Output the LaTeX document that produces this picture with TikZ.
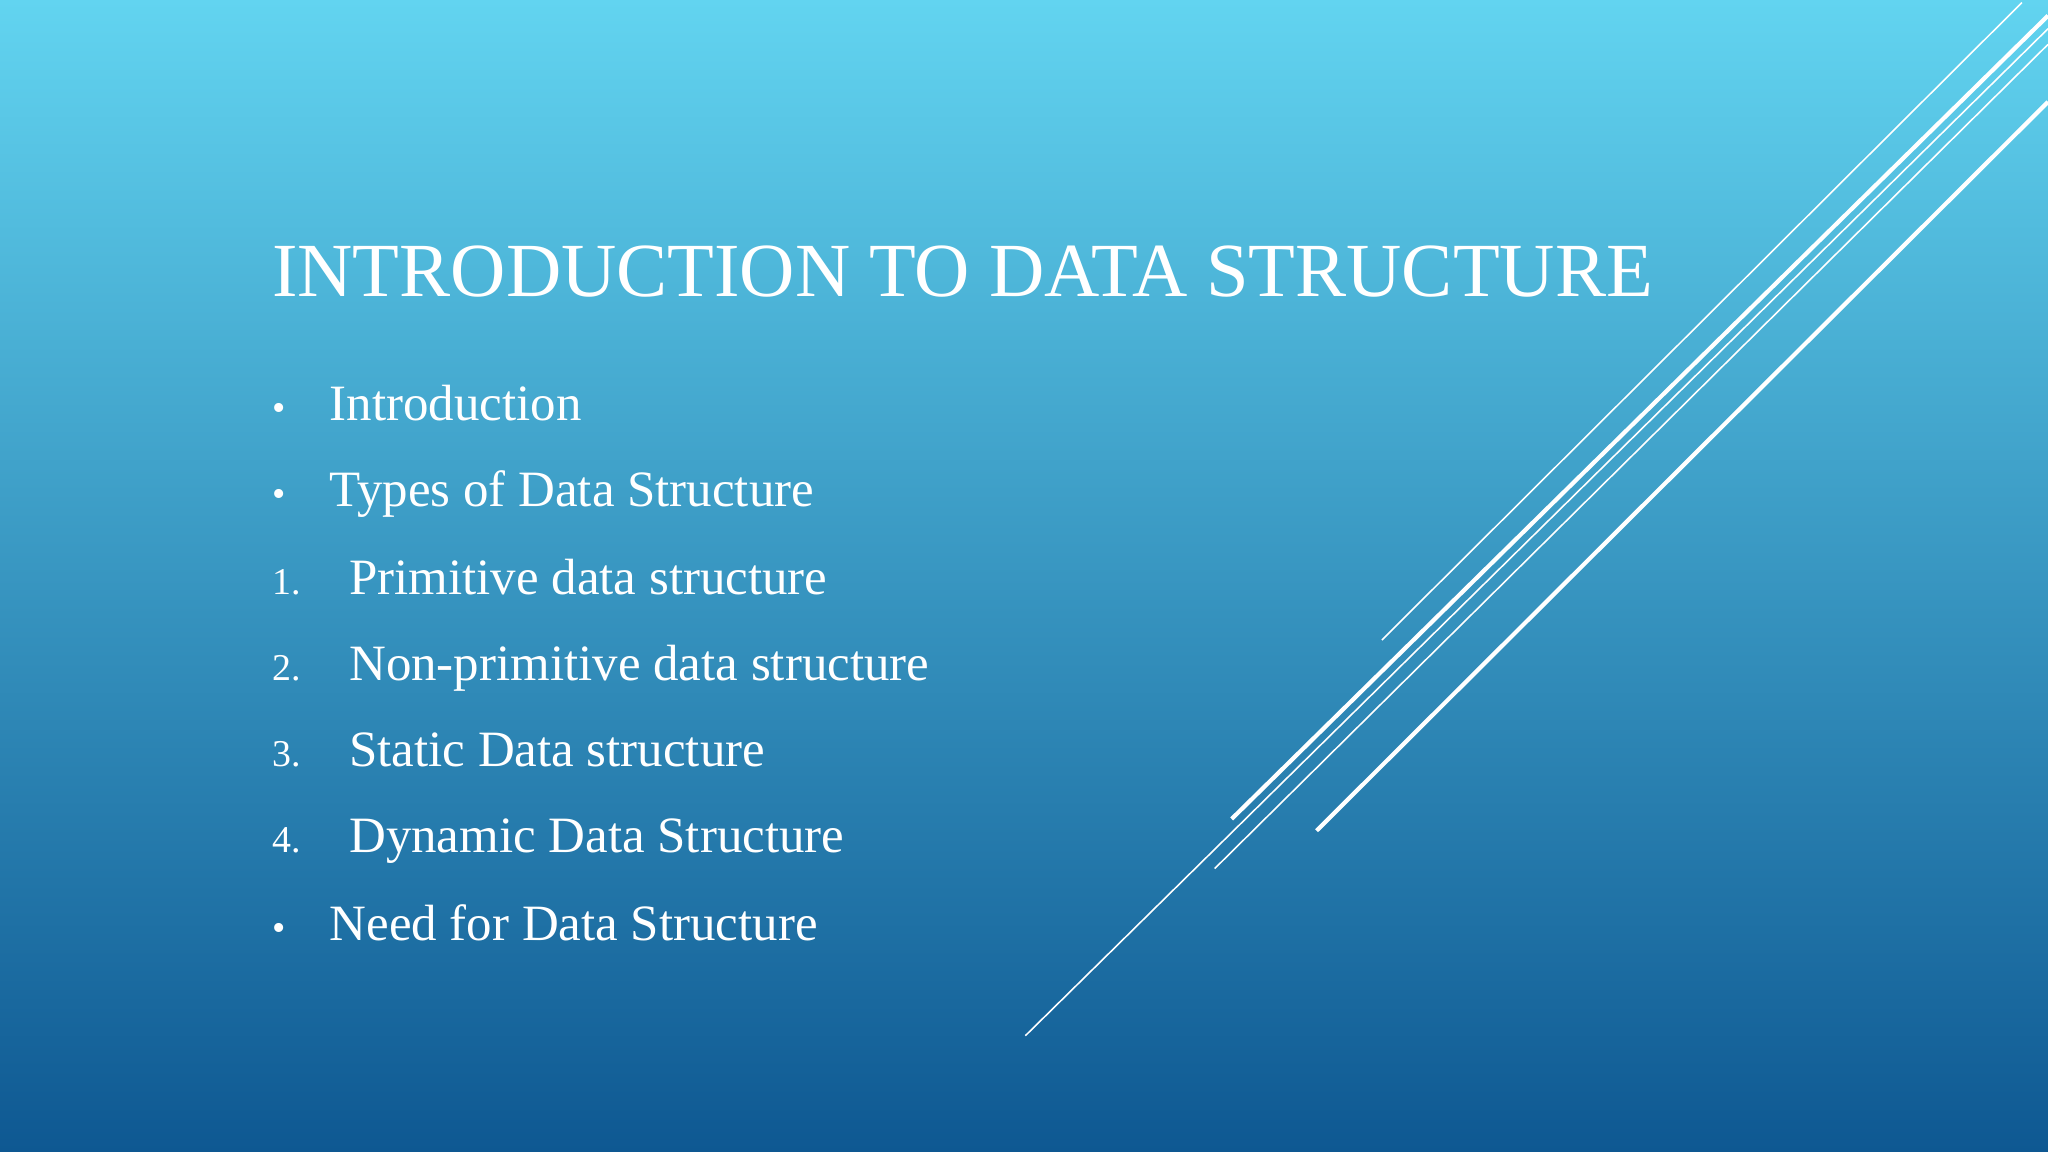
\documentclass[tikz,border=0pt]{standalone}
\usepackage{fontspec}
\setmainfont{Liberation Serif}
\definecolor{topc}{RGB}{98,212,240}
\definecolor{botc}{RGB}{14,88,146}
\begin{document}
\begin{tikzpicture}[x=0.5pt,y=-0.5pt,
  item/.style={anchor=base west,text=white,font=\fontsize{19.5}{23}\selectfont,inner sep=0},
  num/.style={anchor=base west,text=white,font=\fontsize{14.5}{18}\selectfont,inner sep=0},
  thin/.style={white,line width=0.6pt},
  thick/.style={white,line width=1.6pt}]
\shade[top color=topc,bottom color=botc] (0,0) rectangle (1568,882);
\useasboundingbox (0,0) rectangle (1568,882);
\coordinate (a1) at (1058,490); \coordinate (b1) at (1548,2);
\coordinate (a2) at (943,627); \coordinate (b2) at (1568,12);
\coordinate (a3) at (930,665); \coordinate (b3) at (1568,34);
\coordinate (a4) at (1008,636); \coordinate (b4) at (1568,78);
\coordinate (a5) at (785,793); \coordinate (b5) at (1568,22);
\draw[thin] (a1) -- (b1);
\draw[thick] (a2) -- (b2);
\draw[thin] (a3) -- (b3);
\draw[thick] (a4) -- (b4);
\draw[thin] (a5) -- (b5);
\node[anchor=base west,text=white,font=\fontsize{29.3}{34}\selectfont,inner sep=0] (title) at (208,227) {INTRODUCTION TO DATA STRUCTURE};
\node[num] (d1) at (208,322) {•}; \node[item] (t1) at (252,322) {Introduction};
\node[num] (d2) at (208,388) {•}; \node[item] (t2) at (252,388) {Types of Data Structure};
\node[num] (n1) at (208,455) {1.}; \node[item] (t3) at (267,455) {Primitive data structure};
\node[num] (n2) at (208,521) {2.}; \node[item] (t4) at (267,521) {Non-primitive data structure};
\node[num] (n3) at (208,587) {3.}; \node[item] (t5) at (267,587) {Static Data structure};
\node[num] (n4) at (208,653) {4.}; \node[item] (t6) at (267,653) {Dynamic Data Structure};
\node[num] (d3) at (208,720) {•}; \node[item] (t7) at (252,720) {Need for Data Structure};
\end{tikzpicture}
\end{document}
